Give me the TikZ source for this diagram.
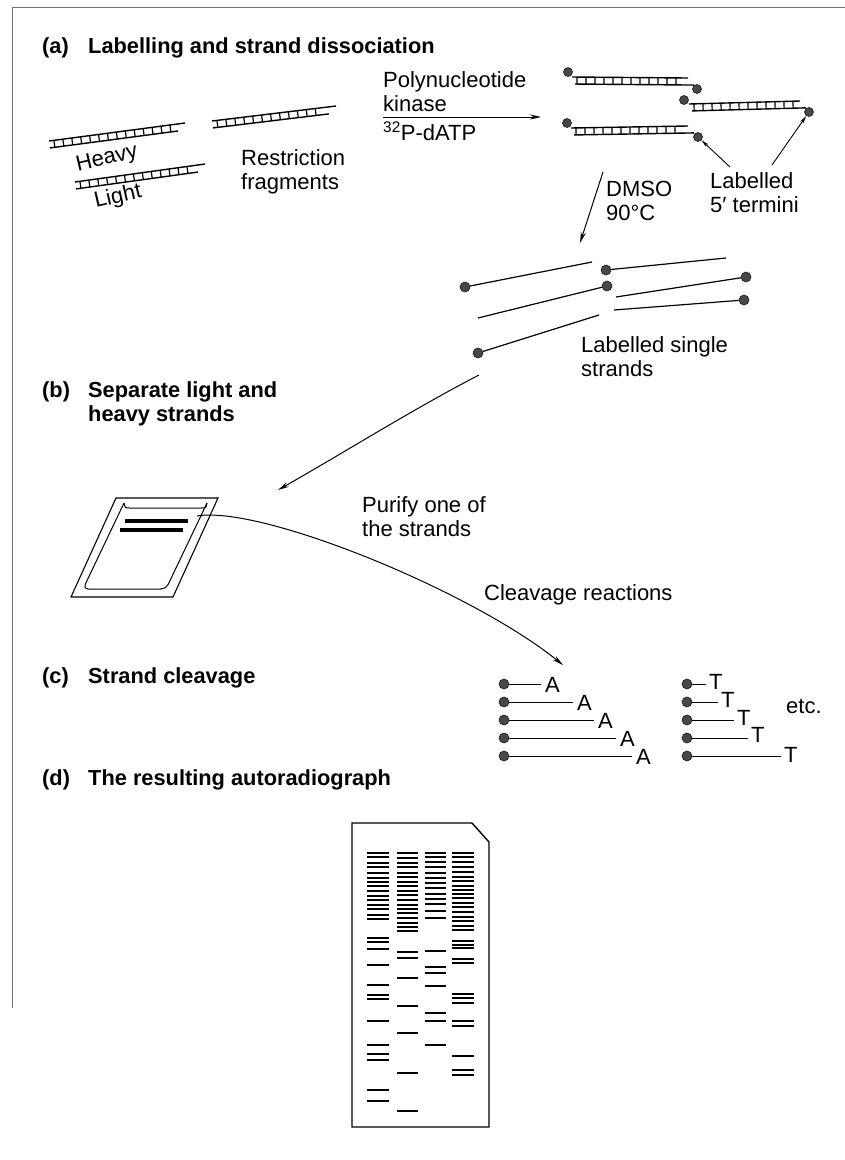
\documentclass[tikz,border=0pt]{standalone}
\usepackage{fontspec}
\setmainfont{Liberation Sans}
\usetikzlibrary{calc,arrows.meta}

\tikzset{
  txt/.style={font=\fontsize{22}{24}\selectfont, inner sep=0pt, align=left},
  ttl/.style={font=\fontsize{21.8}{24}\selectfont\bfseries, inner sep=0pt, align=left},
  strand/.style={line width=1.4pt},
  rung/.style={line width=1.2pt},
  sstrand/.style={line width=1.2pt},
  dot/.style={circle, fill=black!72, draw=black!90, line width=0.6pt, minimum size=10pt, inner sep=0pt},
  arr/.style={line width=1pt, -{Stealth[length=11pt,width=5pt]}},
  smallarr/.style={line width=0.9pt, -{Stealth[length=8pt,width=3.5pt]}},
  band/.style={line width=1.5pt},
  frame/.style={black!55, line width=0.8pt},
}

% double-stranded fragment: #1,#2 ends of the upper strand,
% #3/#4 trim (negative = extend) of the lower strand at left/right,
% #5 position of the last rung along the fragment
\newcommand\dsfrag[5]{%
  \coordinate (la) at ($(#1)!7pt!-90:(#2)$);
  \coordinate (lb) at ($(#2)!7pt!90:(#1)$);
  \draw[strand] (#1) -- (#2);
  \draw[strand] ($(la)!#3!(lb)$) -- ($(lb)!#4!(la)$);
  \foreach \rr in {5,14,...,#5}
    \draw[rung] ($(#1)!\rr pt!(#2)$) -- ($(la)!\rr pt!(lb)$);
}

\begin{document}
\begin{tikzpicture}[x=1pt,y=-1pt]
\useasboundingbox (0,0) rectangle (845,1160);

% page frame
\draw[frame] (12,1008) -- (12,7) -- (845,7);

% ---------------- (a) ----------------
\node[ttl, anchor=base west] (la) at (42,53) {(a)};
\node[ttl, anchor=base west] (ta) at (88,53) {Labelling and strand dissociation};

% restriction fragments
\coordinate (h1) at (49,141);  \coordinate (h2) at (185,123);
\coordinate (l1) at (75,182);  \coordinate (l2) at (205,164);
\coordinate (r1) at (212,121); \coordinate (r2) at (336,106);
\dsfrag{h1}{h2}{0pt}{8pt}{122}
\dsfrag{l1}{l2}{0pt}{8pt}{118}
\dsfrag{r1}{r2}{0pt}{8pt}{112}
\node[txt, rotate=13] (heavy) at (107,159) {Heavy};
\node[txt, rotate=13] (light) at (118,197) {Light};
\node[txt, anchor=west] (restr) at (241,172) {Restriction\\fragments};

% kinase step
\node[txt, anchor=west] (kin) at (383,92) {Polynucleotide\\kinase};
\coordinate (k1) at (383,117);
\coordinate (k2) at (541,117);
\draw[arr] (k1) -- (k2);
\node[txt, anchor=west] (datp) at (383,131) {\textsuperscript{32}P-dATP};

% end-labelled fragments
\node[dot, minimum size=9pt] (d1a) at (568,72) {};  \node[dot, minimum size=9pt] (d1b) at (697,89) {};
\node[dot, minimum size=9pt] (d2a) at (684,100) {}; \node[dot, minimum size=9pt] (d2b) at (809,112) {};
\node[dot, minimum size=9pt] (d3a) at (567,123) {}; \node[dot, minimum size=9pt] (d3b) at (698,137) {};
\coordinate (f1a) at (572,77);  \coordinate (f1b) at (688,78);
\coordinate (f2a) at (689,104); \coordinate (f2b) at (800,101);
\coordinate (f3a) at (571,128); \coordinate (f3b) at (688,126);
\dsfrag{f1a}{f1b}{3pt}{-6pt}{110}
\dsfrag{f2a}{f2b}{3pt}{-6pt}{104}
\dsfrag{f3a}{f3b}{3pt}{-6pt}{110}

\node[txt, anchor=west] (term) at (710,193) {Labelled\\5′ termini};
\coordinate (t1) at (730,167);
\coordinate (t2) at (772,165);
\draw[smallarr] (t1) -- (d3b);
\draw[smallarr] (t2) -- (d2b);

% denaturation
\coordinate (m1) at (603,172);
\coordinate (m2) at (580,243);
\draw[arr] (m1) -- (m2);
\node[txt, anchor=west] (dmso) at (606,201) {DMSO\\90°C};

% single strands
\node[dot] (s1) at (465,287) {}; \coordinate (e1) at (592,262);
\node[dot] (s2) at (606,270) {}; \coordinate (e2) at (726,258);
\node[dot] (s3) at (607,286) {}; \coordinate (e3) at (478,318);
\node[dot] (s4) at (746,277) {}; \coordinate (e4) at (616,297);
\node[dot] (s5) at (744,300) {}; \coordinate (e5) at (614,310);
\node[dot] (s6) at (478,353) {}; \coordinate (e6) at (599,315);
\foreach \i in {1,...,6} \draw[sstrand] (s\i) -- (e\i);
\node[txt, anchor=west] (single) at (581,357) {Labelled single\\strands};

% ---------------- (b) ----------------
\node[ttl, anchor=base west] (tb) at (88,421) {Separate light and\\heavy strands};
\node[ttl, anchor=base west] (lb) at (42,397) {(b)};

\coordinate (g0) at (479,375);
\coordinate (g1) at (278,490);
\draw[arr] (g0) .. controls (415,408) and (345,452) .. (g1);

% gel slab
\draw[line width=1.1pt] (116,498) -- (218,498) -- (173,597) -- (71,597) -- cycle;
\draw[line width=1pt, rounded corners=5pt] (124,503) -- (83,589) -- (166,589) -- (207,503);
\draw[line width=1pt] (124,503) .. controls (125,508) .. (130,508) -- (201,508) .. controls (206,508) .. (207,503);
\draw[line width=3.6pt] (125,521) -- (188,521);
\draw[line width=3.6pt] (120,530) -- (183,530);

\coordinate (p0) at (197,516);
\coordinate (p1) at (563,665);
\draw[arr] (p0) .. controls (260,505) and (470,590) .. (p1);
\node[txt, anchor=west] (purify) at (362,517) {Purify one of\\the strands};
\node[txt, anchor=west] (cleav) at (484,595) {Cleavage reactions};

% ---------------- (c) ----------------
\node[ttl, anchor=base west] (lc) at (42,683) {(c)};
\node[ttl, anchor=base west] (tc) at (88,683) {Strand cleavage};

% A-specific products
\foreach \i/\yy/\xa in {1/684/545, 2/702/577, 3/720/598, 4/738/620, 5/756/636} {
  \node[dot] (ca\i) at (504,\yy) {};
  \node[txt, anchor=west] (A\i) at (\xa,\yy+1) {A};
  \draw[line width=1pt, shorten >=4pt] (ca\i) -- (ca\i -| A\i.west);
}
% T-specific products
\foreach \i/\yy/\xt/\ty in {1/684/709/682, 2/702/721/700, 3/720/737/718, 4/738/751/735, 5/756/784/755} {
  \node[dot] (ct\i) at (687,\yy) {};
  \node[txt, anchor=west] (T\i) at (\xt,\ty) {T};
  \draw[line width=1pt, shorten >=3pt] (ct\i) -- (ct\i -| T\i.west);
}
\node[txt, anchor=west] (etc) at (786,706) {etc.};

% ---------------- (d) ----------------
\node[ttl, anchor=base west] (ld) at (42,785) {(d)};
\node[ttl, anchor=base west] (td) at (88,785) {The resulting autoradiograph};

% film
\draw[line width=1.4pt] (352,823) -- (472,823) -- (489,842) -- (489,1127) -- (352,1127) -- cycle;

\foreach \yy in {853,857,863,867,873,878,882,886,891,896,900,905,909,915,919,938,942,949,965,985,995,999,1021,1045,1054,1060,1090,1101}
  \draw[band] (367,\yy) -- (389,\yy);
\foreach \yy in {853,858,863,867,873,877,882,886,891,895,900,905,909,913,918,923,927,931,952,958,978,1006,1033,1073,1111}
  \draw[band] (397,\yy) -- (418,\yy);
\foreach \yy in {853,857,862,867,873,878,883,888,894,899,904,911,918,951,967,973,986,1013,1021,1045}
  \draw[band] (425,\yy) -- (446,\yy);
\foreach \yy in {853,857,862,867,872,877,881,886,890,894,898,903,907,912,917,921,926,930,941,945,948,959,963,994,998,1003,1021,1026,1056,1070,1075}
  \draw[band] (452,\yy) -- (474,\yy);

\end{tikzpicture}
\end{document}
